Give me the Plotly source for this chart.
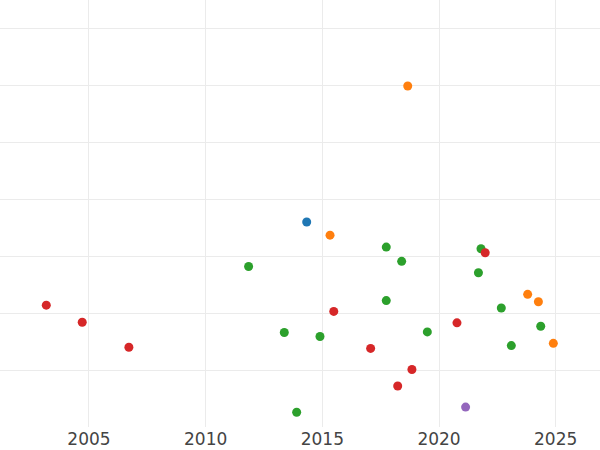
import plotly.graph_objects as go

# Data (year, value) per colour group
blue_x = [2014.33]
blue_y = [3.60]

orange_x = [2018.66, 2015.33, 2023.80, 2024.26, 2024.90]
orange_y = [5.99, 3.37, 2.33, 2.20, 1.47]

green_x = [2017.74, 2018.40, 2021.80, 2021.69, 2017.74, 2022.67, 2024.36,
           2014.90, 2019.50, 2023.10, 2013.90, 2011.84, 2013.37]
green_y = [3.16, 2.91, 3.13, 2.71, 2.22, 2.09, 1.77,
           1.59, 1.67, 1.43, 0.26, 2.82, 1.66]

red_x = [2021.98, 2015.49, 2020.77, 2017.07, 2018.84, 2018.23,
         2003.17, 2004.71, 2006.71]
red_y = [3.06, 2.03, 1.83, 1.38, 1.01, 0.72,
         2.14, 1.84, 1.40]

purple_x = [2021.14]
purple_y = [0.35]

groups = [
    ("blue", blue_x, blue_y, "#1f77b4"),
    ("orange", orange_x, orange_y, "#ff7f0e"),
    ("green", green_x, green_y, "#2ca02c"),
    ("red", red_x, red_y, "#d62728"),
    ("purple", purple_x, purple_y, "#9467bd"),
]

fig = go.Figure()
for name, xs, ys, col in groups:
    fig.add_trace(go.Scatter(x=xs, y=ys, mode="markers", name=name,
                             marker=dict(color=col, size=9, line=dict(width=0))))

fig.update_layout(
    width=600, height=450,
    margin=dict(l=0, r=0, t=0, b=23),
    paper_bgcolor="white", plot_bgcolor="white",
    showlegend=False,
    font=dict(family="DejaVu Sans", size=17, color="#444"),
)
fig.update_xaxes(range=[2001.186, 2026.9], tickvals=[2005, 2010, 2015, 2020, 2025],
                 showgrid=True, gridcolor="#ebebeb", gridwidth=1, zeroline=False,
                 showline=False, ticks="")
fig.update_yaxes(range=[0, 7.5], dtick=1, showticklabels=False,
                 showgrid=True, gridcolor="#ebebeb", gridwidth=1, zeroline=False,
                 showline=False, ticks="")

fig.write_html("out.html", config={"displayModeBar": False},
               post_script="document.body.style.margin='0';")
